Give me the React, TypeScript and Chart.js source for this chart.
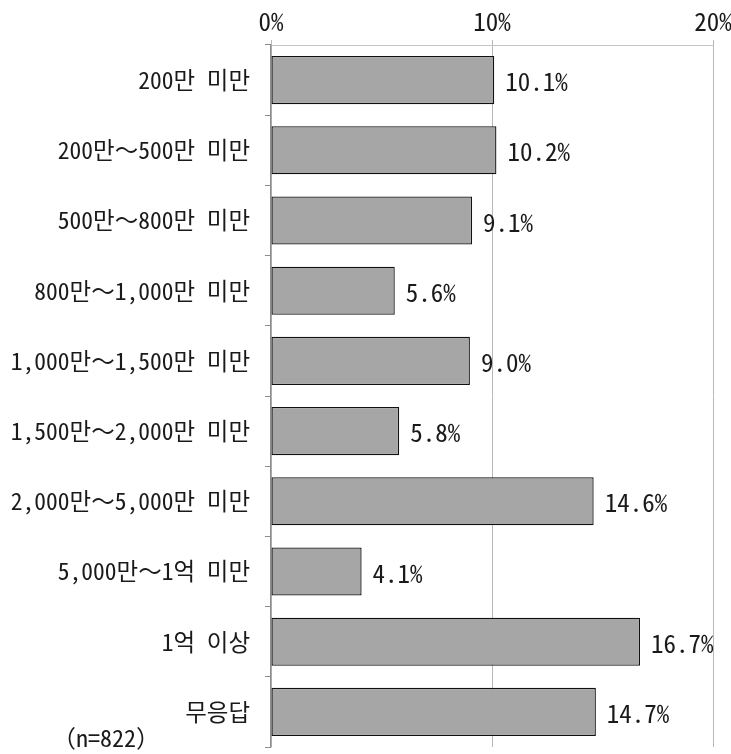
import React, { useEffect, useRef } from "react";
import { Chart, registerables } from "chart.js";

Chart.register(...registerables);

const categories: string[] = [
  "200만 미만",
  "200만～500만 미만",
  "500만～800만 미만",
  "800만～1,000만 미만",
  "1,000만～1,500만 미만",
  "1,500만～2,000만 미만",
  "2,000만～5,000만 미만",
  "5,000만～1억 미만",
  "1억 이상",
  "무응답",
];

const shares: number[] = [10.1, 10.2, 9.1, 5.6, 9.0, 5.8, 14.6, 4.1, 16.7, 14.7];

const axisTicks: number[] = [0, 10, 20];

const sampleNote = "（n=822）";

const FONT = "'Noto Sans Mono CJK KR', 'Noto Sans CJK KR', sans-serif";

const formatShare = (v: number) => v.toFixed(1) + "%";

// Percentage labels at the end of each bar, plus the sample-size note.
const valueLabels = {
  id: "valueLabels",
  afterDatasetsDraw(chart: any) {
    const ctx = chart.ctx;
    const meta = chart.getDatasetMeta(0);
    ctx.save();
    ctx.font = `25px ${FONT}`;
    ctx.fillStyle = "#1a1a1a";
    ctx.textAlign = "left";
    ctx.textBaseline = "middle";
    meta.data.forEach((bar: any, i: number) => {
      ctx.fillText(formatShare(shares[i]), bar.x + 11, bar.y + 1.5);
    });
    ctx.font = `24px ${FONT}`;
    ctx.textBaseline = "alphabetic";
    ctx.fillText(sampleNote, 52, 747);
    ctx.restore();
  },
};

export default function App() {
  const canvasRef = useRef<HTMLCanvasElement | null>(null);

  useEffect(() => {
    document.body.style.margin = "0";
    const canvas = canvasRef.current;
    if (!canvas) return;
    const chart = new Chart(canvas, {
      type: "bar",
      data: {
        labels: categories,
        datasets: [
          {
            data: shares,
            backgroundColor: "#a6a6a6",
            borderColor: "#111111",
            borderWidth: 1.3,
            borderSkipped: false,
            barPercentage: 0.685,
            categoryPercentage: 1,
          },
        ],
      },
      options: {
        indexAxis: "y",
        responsive: false,
        animation: false,
        devicePixelRatio: 1,
        layout: { padding: { top: 0, right: 18, bottom: 7, left: 0 } },
        plugins: {
          legend: { display: false },
          tooltip: { enabled: false },
        },
        scales: {
          x: {
            position: "top",
            min: axisTicks[0],
            max: axisTicks[axisTicks.length - 1],
            afterBuildTicks: (scale: any) => {
              scale.ticks = axisTicks.map((v) => ({ value: v }));
            },
            afterFit: (scale: any) => {
              scale.height = 45;
              scale.paddingLeft = 0;
              scale.paddingRight = 0;
            },
            ticks: {
              callback: (v: any) => `${v}%`,
              font: { family: FONT, size: 25 },
              color: "#1a1a1a",
              padding: 4,
              maxRotation: 0,
            },
            grid: {
              color: "#b8b8b8",
              lineWidth: 1,
              tickLength: 5,
              drawTicks: true,
            },
            border: { display: true, color: "#c4c4c4", width: 1 },
          },
          y: {
            afterFit: (scale: any) => {
              scale.width = 271;
              scale.paddingTop = 0;
              scale.paddingBottom = 0;
            },
            ticks: {
              font: { family: FONT, size: 23.5 },
              color: "#1a1a1a",
              padding: 15,
              autoSkip: false,
            },
            grid: {
              offset: true,
              drawOnChartArea: false,
              drawTicks: true,
              tickLength: 6,
              color: "#8c8c8c",
            },
            border: { display: true, color: "#8c8c8c", width: 1.3 },
          },
        },
      },
      plugins: [valueLabels],
    });
    return () => chart.destroy();
  }, []);

  return (
    <div style={{ position: "absolute", left: 0, top: 0, width: 731, height: 754, background: "#fff" }}>
      <canvas ref={canvasRef} width={731} height={754} style={{ width: 731, height: 754, display: "block" }} />
    </div>
  );
}
